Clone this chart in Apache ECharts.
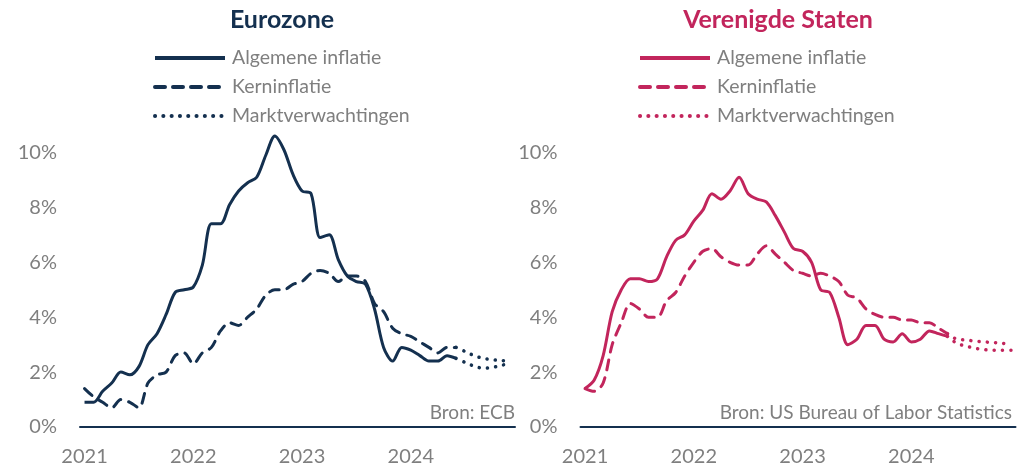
<!DOCTYPE html>
<html>
<head>
<meta charset="utf-8">
<script src="https://cdn.jsdelivr.net/npm/echarts@6/dist/echarts.min.js"></script>
<style>
  html, body { margin: 0; padding: 0; background: #fff; }
  #chart { width: 1031px; height: 468px; }
</style>
</head>
<body>
<div id="chart"></div>
<script>
// months Jan 2021 .. Dec 2024
const years = ["2021", "2022", "2023", "2024"];
const months = [];
years.forEach((y) => {
  for (let m = 1; m <= 12; m++) months.push(y + "-" + String(m).padStart(2, "0"));
});

// Eurozone, Jan 2021 - Jun 2024
const euroHeadline = [
  0.9, 0.9, 1.3, 1.6, 2.0, 1.9, 2.2, 3.0, 3.4, 4.1, 4.9, 5.0,
  5.1, 5.9, 7.4, 7.4, 8.1, 8.6, 8.9, 9.1, 9.9, 10.6, 10.1, 9.2,
  8.6, 8.5, 6.9, 7.0, 6.1, 5.5, 5.3, 5.2, 4.3, 2.9, 2.4, 2.9,
  2.8, 2.6, 2.4, 2.4, 2.6, 2.5,
];
const euroCore = [
  1.4, 1.1, 0.9, 0.7, 1.0, 0.9, 0.7, 1.6, 1.9, 2.0, 2.6, 2.7,
  2.3, 2.7, 2.9, 3.5, 3.8, 3.7, 4.0, 4.3, 4.8, 5.0, 5.0, 5.2,
  5.3, 5.6, 5.7, 5.6, 5.3, 5.5, 5.5, 5.3, 4.5, 4.2, 3.6, 3.4,
  3.3, 3.1, 2.9, 2.7, 2.9, 2.9,
];
// market expectations, Jun 2024 - Dec 2024
const euroExpHeadline = [2.5, 2.35, 2.22, 2.14, 2.17, 2.25, 2.3];
const euroExpCore = [2.9, 2.75, 2.6, 2.5, 2.45, 2.42, 2.4];

// United States, Jan 2021 - May 2024
const usHeadline = [
  1.4, 1.7, 2.6, 4.2, 5.0, 5.4, 5.4, 5.3, 5.4, 6.2, 6.8, 7.0,
  7.5, 7.9, 8.5, 8.3, 8.6, 9.1, 8.5, 8.3, 8.2, 7.7, 7.1, 6.5,
  6.4, 6.0, 5.0, 4.9, 4.0, 3.0, 3.2, 3.7, 3.7, 3.2, 3.1, 3.4,
  3.1, 3.2, 3.5, 3.4, 3.3,
];
const usCore = [
  1.4, 1.3, 1.6, 3.0, 3.8, 4.5, 4.3, 4.0, 4.0, 4.6, 4.9, 5.5,
  6.0, 6.4, 6.5, 6.2, 6.0, 5.9, 5.9, 6.3, 6.6, 6.3, 6.0, 5.7,
  5.6, 5.5, 5.6, 5.5, 5.3, 4.8, 4.7, 4.3, 4.1, 4.0, 4.0, 3.9,
  3.9, 3.8, 3.8, 3.6, 3.4,
];
// market expectations, May 2024 - Dec 2024
const usExpHeadline = [3.3, 3.05, 2.95, 2.87, 2.82, 2.8, 2.8, 2.8];
const usExpCore = [3.4, 3.2, 3.17, 3.13, 3.1, 3.08, 3.05, 3.02];

const yTicks = [0, 2, 4, 6, 8, 10];
const legendNames = ["Algemene inflatie", "Kerninflatie", "Marktverwachtingen"];

const NAVY = "#14304f";
const RED = "#c2255c";
const GREY = "#7f7f7f";
const FONT = "Lato";

const fromStart = (arr) => arr.concat(Array(months.length - arr.length).fill(null));
const fromEnd = (arr) => Array(months.length - arr.length).fill(null).concat(arr);

function lineSeries(prefix, idx, color, kind, data) {
  const styles = {
    solid: { type: "solid", width: 3 },
    dashed: { type: [10, 8], width: 3, cap: "round" },
    dotted: { type: [0.1, 8.2], width: 3.5, cap: "round" },
  };
  const nameIdx = { solid: 0, dashed: 1, dotted: 2 }[kind];
  return {
    name: prefix + "|" + legendNames[nameIdx],
    type: "line",
    xAxisIndex: idx,
    yAxisIndex: idx,
    data: data,
    symbol: "none",
    smooth: 0.3,
    clip: false,
    itemStyle: { color: color },
    lineStyle: Object.assign({ color: color }, styles[kind]),
  };
}

function xAxis(idx) {
  return {
    type: "category",
    gridIndex: idx,
    data: months,
    boundaryGap: true,
    axisLine: { lineStyle: { color: NAVY, width: 2 } },
    axisTick: { show: false },
    axisLabel: {
      interval: 11,
      formatter: (v) => v.slice(0, 4),
      color: GREY,
      fontSize: 20,
      fontFamily: FONT,
      margin: 20,
    },
  };
}

function yAxis(idx) {
  return {
    type: "value",
    gridIndex: idx,
    min: yTicks[0],
    max: yTicks[yTicks.length - 1],
    interval: 2,
    splitLine: { show: false },
    axisLine: { show: false },
    axisTick: { show: false },
    axisLabel: {
      formatter: "{value}%",
      color: GREY,
      fontSize: 20,
      fontFamily: FONT,
      margin: 23,
    },
  };
}

function legend(prefix, left) {
  return {
    orient: "vertical",
    left: left,
    top: 48,
    padding: 0,
    data: legendNames.map((n) => prefix + "|" + n),
    formatter: (n) => n.split("|")[1],
    itemWidth: 70,
    itemHeight: 20,
    itemGap: 9,
    itemStyle: { opacity: 0 },
    lineStyle: { width: 4 },
    selectedMode: false,
    textStyle: { color: GREY, fontSize: 19.5, fontFamily: FONT, padding: [0, 0, 0, 2] },
  };
}

const chart = echarts.init(document.getElementById("chart"));
chart.setOption({
  animation: false,
  grid: [
    { left: 80, top: 152.5, width: 435, height: 274.5 },
    { left: 580.5, top: 152.5, width: 435, height: 274.5 },
  ],
  xAxis: [xAxis(0), xAxis(1)],
  yAxis: [yAxis(0), yAxis(1)],
  legend: [legend("ez", 153), legend("us", 638)],
  graphic: [
    { type: "text", x: 282, y: 20, style: { text: "Eurozone", fill: NAVY, font: "bold 25px Lato", align: "center", verticalAlign: "middle" } },
    { type: "text", x: 778, y: 20, style: { text: "Verenigde Staten", fill: RED, font: "bold 25px Lato", align: "center", verticalAlign: "middle" } },
    { type: "text", x: 515, y: 413, style: { text: "Bron: ECB", fill: GREY, font: "19px Lato", align: "right", verticalAlign: "middle" } },
    { type: "text", x: 1012, y: 413, style: { text: "Bron: US Bureau of Labor Statistics", fill: GREY, font: "19px Lato", align: "right", verticalAlign: "middle" } },
  ],
  series: [
    lineSeries("ez", 0, NAVY, "solid", fromStart(euroHeadline)),
    lineSeries("ez", 0, NAVY, "dashed", fromStart(euroCore)),
    lineSeries("ez", 0, NAVY, "dotted", fromEnd(euroExpHeadline)),
    lineSeries("ez", 0, NAVY, "dotted", fromEnd(euroExpCore)),
    lineSeries("us", 1, RED, "solid", fromStart(usHeadline)),
    lineSeries("us", 1, RED, "dashed", fromStart(usCore)),
    lineSeries("us", 1, RED, "dotted", fromEnd(usExpHeadline)),
    lineSeries("us", 1, RED, "dotted", fromEnd(usExpCore)),
  ],
});
</script>
</body>
</html>
